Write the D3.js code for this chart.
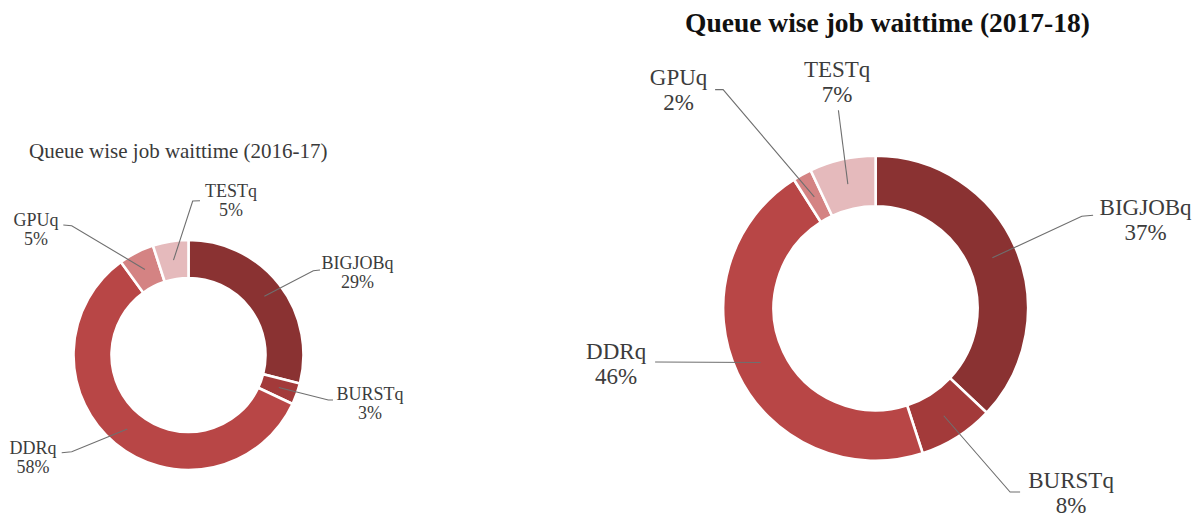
<!DOCTYPE html>
<html>
<head>
<meta charset="utf-8">
<script src="https://cdn.jsdelivr.net/npm/d3@7"></script>
<style>
  html, body { margin: 0; padding: 0; background: #ffffff; }
  svg { display: block; }
</style>
</head>
<body>
<svg id="chart" width="1201" height="517"></svg>
<script>
// Queue names, in slice order (clockwise from 12 o'clock)
const queues = ["BIGJOBq", "BURSTq", "DDRq", "GPUq", "TESTq"];
// Share of total job wait time per queue, in percent
const share2016 = [29, 3, 58, 5, 5];
const share2017 = [37, 8, 46, 2, 7];
const title2016 = "Queue wise job waittime (2016-17)";
const title2017 = "Queue wise job waittime (2017-18)";

// Slice fill per queue
const queueColors = ["#8a3232", "#a33a3a", "#b84646", "#d48383", "#e5babc"];

const svg = d3.select("#chart");
const color = d3.scaleOrdinal().domain(queues).range(queueColors);

// Layout of each doughnut: centre, radii, title and label placement.
// Label offsets are relative to the doughnut centre:
//   text = [centre x of label, baseline of first line]
//   elbow / tail = leader line bend point and end point near the label
const panels = [
  {
    values: share2016,
    title: title2016,
    cx: 188.5, cy: 355, rOuter: 115, rInner: 77,
    titleX: 29, titleY: 158, titleAnchor: "start",
    titleSize: 21, titleWeight: "normal", titleFill: "#3a3a3a",
    labelSize: 18, lineGap: 19,
    labels: {
      BIGJOBq: { text: [169, -86],   elbow: [124.8, -84.3], tail: [131.5, -85] },
      BURSTq:  { text: [181.5, 45],  elbow: [139.8, 45],    tail: [144.5, 45] },
      DDRq:    { text: [-155.5, 99], elbow: [-116.8, 96.7], tail: [-126.8, 97.7] },
      GPUq:    { text: [-152.5, -129], elbow: [-116.8, -129.3], tail: [-125.2, -130] },
      TESTq:   { text: [42.5, -158], elbow: [4.2, -154],    tail: [11.5, -154.3] }
    }
  },
  {
    values: share2017,
    title: title2017,
    cx: 875.6, cy: 308.3, rOuter: 152.5, rInner: 102,
    titleX: 887.5, titleY: 32, titleAnchor: "middle",
    titleSize: 27.5, titleWeight: "bold", titleFill: "#111111",
    labelSize: 23, lineGap: 25,
    labels: {
      BIGJOBq: { text: [270, -93],     elbow: [206.2, -92],    tail: [217.5, -93] },
      BURSTq:  { text: [195.5, 180],   elbow: [134.5, 183.7],  tail: [144.5, 183.7] },
      DDRq:    { text: [-259.5, 51],   elbow: [-220.5, 53.7],  tail: [-220.5, 53.7] },
      GPUq:    { text: [-197, -223],   elbow: [-152.5, -218.7], tail: [-160.5, -218.7] },
      TESTq:   { text: [-38.5, -231],  elbow: [-37.2, -198],   tail: [-37.2, -198] }
    }
  }
];

const pie = d3.pie().sort(null).value(d => d.value);

panels.forEach(p => {
  const data = queues.map((q, i) => ({ queue: q, value: p.values[i] }));
  const arcs = pie(data);
  const arc = d3.arc().innerRadius(p.rInner).outerRadius(p.rOuter);
  const mid = d3.arc().innerRadius((p.rInner + p.rOuter) / 2).outerRadius((p.rInner + p.rOuter) / 2);

  const g = svg.append("g").attr("transform", `translate(${p.cx},${p.cy})`);

  // Doughnut slices separated by white borders
  g.selectAll("path.slice")
    .data(arcs)
    .join("path")
    .attr("class", "slice")
    .attr("d", arc)
    .attr("fill", d => color(d.data.queue))
    .attr("stroke", "#ffffff")
    .attr("stroke-width", 2.6)
    .attr("stroke-linejoin", "miter");

  // Leader lines from slice middle to its label
  g.selectAll("path.leader")
    .data(arcs)
    .join("path")
    .attr("class", "leader")
    .attr("d", d => {
      const L = p.labels[d.data.queue];
      const c = mid.centroid(d);
      return d3.line()([c, L.elbow, L.tail]);
    })
    .attr("fill", "none")
    .attr("stroke", "#6f6f6f")
    .attr("stroke-width", 1.1);

  // Two-line labels: queue name and share
  const lab = g.selectAll("text.label")
    .data(arcs)
    .join("text")
    .attr("class", "label")
    .attr("text-anchor", "middle")
    .attr("font-family", "'Liberation Serif', 'Times New Roman', serif")
    .attr("font-size", p.labelSize)
    .attr("fill", "#3c3c3c");
  lab.append("tspan")
    .attr("x", d => p.labels[d.data.queue].text[0])
    .attr("y", d => p.labels[d.data.queue].text[1])
    .text(d => d.data.queue);
  lab.append("tspan")
    .attr("x", d => p.labels[d.data.queue].text[0])
    .attr("y", d => p.labels[d.data.queue].text[1] + p.lineGap)
    .text(d => d3.format(".0f")(d.data.value) + "%");

  // Chart title
  svg.append("text")
    .attr("x", p.titleX)
    .attr("y", p.titleY)
    .attr("text-anchor", p.titleAnchor)
    .attr("font-family", "'Liberation Serif', 'Times New Roman', serif")
    .attr("font-size", p.titleSize)
    .attr("font-weight", p.titleWeight)
    .attr("fill", p.titleFill)
    .text(p.title);
});
</script>
</body>
</html>
